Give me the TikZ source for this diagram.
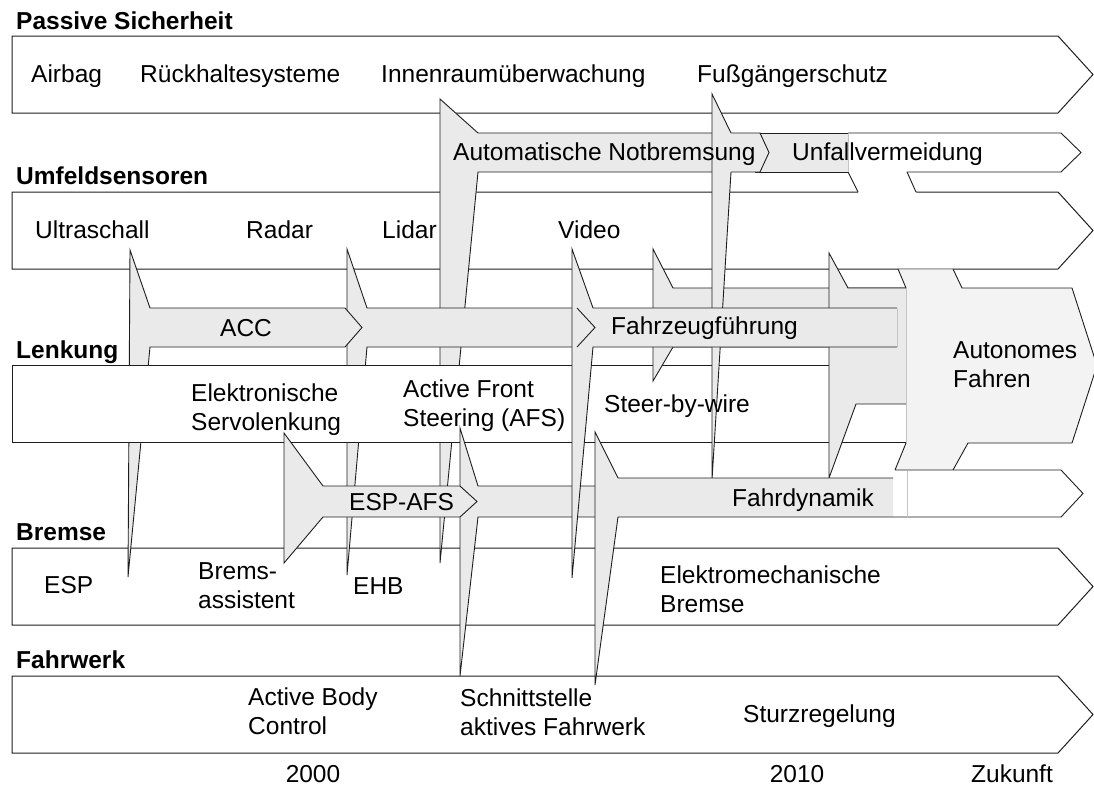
\documentclass[tikz,border=0pt]{standalone}
\usepackage{fontspec}
\setmainfont{Liberation Sans}
\definecolor{gfill}{HTML}{EAEAEA}
\definecolor{afill}{HTML}{F3F3F3}
\definecolor{edge}{HTML}{1E1E1E}
\definecolor{ledge}{HTML}{C4C4C4}
\newcommand{\twol}[2]{\vtop{\hbox{#1}\hbox{#2}}}
\tikzset{
  lane/.style={fill=white, draw=edge, line width=1pt, line join=miter},
  gshape/.style={fill=gfill, draw=edge, line width=0.9pt, line join=miter},
  gline/.style={draw=edge, line width=0.9pt, line join=miter},
  lline/.style={draw=ledge, line width=1pt},
  txt/.style={inner sep=0pt, anchor=base west, font=\fontsize{24.5}{29.5}\selectfont},
  ttl/.style={inner sep=0pt, anchor=base west, font=\fontsize{24.5}{29.5}\selectfont\bfseries},
  yr/.style={inner sep=0pt, anchor=base, font=\fontsize{24.5}{29.5}\selectfont}
}
\begin{document}
\begin{tikzpicture}[x=1pt,y=-1pt]
\useasboundingbox (0,0) rectangle (1094,785);
% lanes (except Lenkung)
\draw[lane] (12,36) -- (1058,36) -- (1093,74.5) -- (1058,113) -- (12,113) -- cycle;
\draw[lane] (12,192) -- (1058,192) -- (1093,230.5) -- (1058,269) -- (12,269) -- cycle;
\draw[lane] (12,548) -- (1058,548) -- (1093,586.5) -- (1058,625) -- (12,625) -- cycle;
\draw[lane] (12,676) -- (1058,676) -- (1093,714.5) -- (1058,753) -- (12,753) -- cycle;
% Unfallvermeidung white arrow and connector
\fill[white] (848,133) -- (1061,133) -- (1081,152.5) -- (1061,172) -- (848,172) -- cycle;
\draw[gline] (848,133) -- (1061,133) -- (1081,152.5) -- (1061,172) -- (848,172);
\fill[white] (847.2,170.4) -- (906.3,170.4) -- (916.7,193.6) -- (858.8,193.6) -- cycle;
\draw[gline] (848,172) -- (858,192);
\draw[gline] (907,172) -- (916,192);
\fill[gfill] (755,133) rectangle (848,172);
\draw[gline] (755,133) -- (848,133) (755,172) -- (848,172);
\draw[lline] (848,133.5) -- (848,171.5);
% Notbremsung
\filldraw[gshape] (440,99) -- (478,133) -- (760,133) -- (769,152.5) -- (760,172) -- (478,172) -- (440,563) -- cycle;
% Radar arrow
\filldraw[gshape] (347,249) -- (367,308) -- (577,308) -- (595,327.5) -- (577,347) -- (367,347) -- (347,575) -- cycle;
% ACC
\filldraw[gshape] (130,250) -- (150,308) -- (345,308) -- (362,327.5) -- (345,347) -- (150,347) -- (128,577) -- cycle;
% Lenkung lane
\draw[lane] (12,365) -- (1000,365) -- (1000,442) -- (12,442) -- cycle;
% Steering arrow
\filldraw[gshape] (460,428) -- (478,486) -- (600,486) -- (600,517) -- (478,517) -- (460,676) -- cycle;
% ESP-AFS
\filldraw[gshape] (284,433) -- (323,486) -- (460,486) -- (477,501.5) -- (460,517) -- (323,517) -- (284,563) -- cycle;
% Steer-by-wire
\fill[gfill] (653,249) -- (673,288) -- (906,288) -- (906,347) -- (673,347) -- (653,381) -- cycle;
\draw[gline] (906,288) -- (673,288) -- (653,249) -- (653,381) -- (673,347) -- (906,347);
% Fussgaenger tail
\fill[gfill] (712,94) -- (731,133) -- (731,172) -- (712,480) -- cycle;
\draw[gline] (731,133) -- (712,94) -- (712,480) -- (731,172);
% arrow into Autonomes
\fill[gfill] (829,253) -- (848,288) -- (906,288) -- (906,404) -- (856,404) -- (829,478) -- cycle;
\draw[gline] (906,288) -- (848,288) -- (829,253) -- (829,478) -- (856,404) -- (906,404);
% Fahrzeugfuehrung
\fill[gfill] (572,249) -- (593,308) -- (897,308) -- (897,347) -- (593,347) -- (572,578) -- cycle;
\draw[gline] (897,308) -- (593,308) -- (572,249) -- (572,578) -- (593,347) -- (897,347);
\draw[lline] (897,308.5) -- (897,346.5);
\fill[gfill] (575,308.5) -- (577,308.5) -- (595,327.5) -- (577,346.5) -- (575,346.5) -- cycle;
\draw[gline] (577,308) -- (595,327.5) -- (577,347);
% Fahrdynamik
\fill[gfill] (595,432) -- (618,478) -- (893,478) -- (893,517) -- (618,517) -- (595,685) -- cycle;
\draw[gline] (893,478) -- (618,478) -- (595,432) -- (595,685) -- (618,517) -- (893,517);
% Autonomes Fahren
\fill[afill] (898,269) -- (953,269) -- (962,288) -- (1072,288) -- (1097,365.5) -- (1072,443) -- (968,443) -- (953,470) -- (895,470) -- (906,443) -- (906,288) -- cycle;
\draw[lline] (898,269) -- (953,269);
\draw[lline] (906,288) -- (906,443);
\draw[gline] (898,269) -- (906,288);
\draw[gline] (953,269) -- (962,288) -- (1072,288) -- (1097,365.5) -- (1072,443) -- (968,443) -- (953,470);
\draw[gline] (906,443) -- (895,470);
% Fahrdynamik white continuation
\fill[white] (895,470) -- (1061,470) -- (1083,493.5) -- (1061,517) -- (895,517) -- cycle;
\draw[gline] (895,470) -- (1061,470) -- (1083,493.5) -- (1061,517) -- (893,517);
\draw[lline] (907,470.5) -- (907,516.5);
% titles
\node[ttl] (tPS) at (16,29) {Passive Sicherheit};
\node[ttl] (tUS) at (16,184) {Umfeldsensoren};
\node[ttl] (tLK) at (16,358) {Lenkung};
\node[ttl] (tBR) at (16,540) {Bremse};
\node[ttl] (tFW) at (16,668) {Fahrwerk};
% lane 1
\node[txt] (airbag) at (31,82) {Airbag};
\node[txt] (rueck) at (140,82) {Rückhaltesysteme};
\node[txt] (innen) at (381,82) {Innenraumüberwachung};
\node[txt] (fuss) at (697,82) {Fußgängerschutz};
% row between
\node[txt] (notb) at (453,160) {Automatische Notbremsung};
\node[txt] (unfall) at (792,160) {Unfallvermeidung};
% lane 2
\node[txt] (ultra) at (35,238) {Ultraschall};
\node[txt] (radar) at (246,238) {Radar};
\node[txt] (lidar) at (382,238) {Lidar};
\node[txt] (video) at (558,238) {Video};
% bands
\node[txt] (acc) at (220,336) {ACC};
\node[txt] (fzf) at (611,334) {Fahrzeugführung};
\node[txt] (auto) at (953,358) {\twol{Autonomes}{Fahren}};
% lane 3
\node[txt] (eps) at (191,401) {\twol{Elektronische}{Servolenkung}};
\node[txt] (afs) at (403,397) {\twol{Active Front}{Steering (AFS)}};
\node[txt] (sbw) at (604,412) {Steer-by-wire};
% row between 3 and 4
\node[txt] (espafs) at (349,510) {ESP-AFS};
\node[txt] (fdyn) at (732,506) {Fahrdynamik};
% lane 4
\node[txt] (esp) at (44,593) {ESP};
\node[txt] (ba) at (198,579) {\twol{Brems-}{assistent}};
\node[txt] (ehb) at (353,594) {EHB};
\node[txt] (emb) at (660,583) {\twol{Elektromechanische}{Bremse}};
% lane 5
\node[txt] (abc) at (248,705) {\twol{Active Body}{Control}};
\node[txt] (saf) at (460,706) {\twol{Schnittstelle}{aktives Fahrwerk}};
\node[txt] (sturz) at (743,722) {Sturzregelung};
% years
\node[yr] (y2000) at (313,782) {2000};
\node[yr] (y2010) at (797,782) {2010};
\node[yr] (yzuk) at (1012,782) {Zukunft};
\end{tikzpicture}
\end{document}
